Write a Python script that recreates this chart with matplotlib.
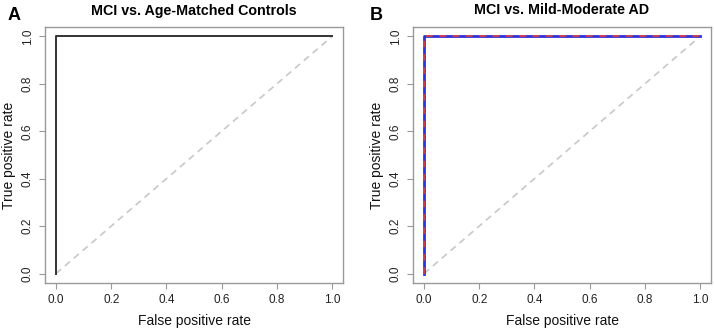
import matplotlib
matplotlib.use("Agg")
import matplotlib.pyplot as plt

plt.rcParams['font.family'] = ['Liberation Sans', 'DejaVu Sans']

fpr_a = [0.0, 0.0, 1.0]
tpr_a = [0.0, 1.0, 1.0]
fpr_b = [0.0, 0.0, 1.0]
tpr_b = [0.0, 1.0, 1.0]
titles = ["MCI vs. Age-Matched Controls", "MCI vs. Mild-Moderate AD"]
panel_letters = ["A", "B"]
ticks = [0.0, 0.2, 0.4, 0.6, 0.8, 1.0]

fig = plt.figure(figsize=(7.14, 3.31), dpi=100)
W, H = 714, 331
boxes = [(45, 343), (413, 711)]
top_px, bot_px = 27, 283
axes = []
for (l, r) in boxes:
    ax = fig.add_axes([l / W, 1 - bot_px / H, (r - l) / W, (bot_px - top_px) / H])
    axes.append(ax)

for i, ax in enumerate(axes):
    ax.set_xlim(-0.04, 1.04)
    ax.set_ylim(-0.04, 1.04)
    ax.plot([0, 1], [0, 1], color='#c8c8c8', lw=1.2, ls=(0, (4, 3)))
    if i == 0:
        ax.plot(fpr_a, tpr_a, color='#333333', lw=1.4)
    else:
        ax.plot(fpr_b, tpr_b, color='#3030d8', lw=2.0)
        ax.plot(fpr_b, tpr_b, color='#e04040', lw=1.2, ls=(0, (4, 4)))
    for s in ax.spines.values():
        s.set_color('#999999')
        s.set_linewidth(1.0)
    ax.set_xticks(ticks)
    ax.set_yticks(ticks)
    ax.set_xticklabels([f"{t:.1f}" for t in ticks])
    ax.set_yticklabels([f"{t:.1f}" for t in ticks], rotation=90, va='center')
    ax.tick_params(colors='#999999', labelcolor='#222222', labelsize=8.5, length=4, pad=4)
    ax.set_xlabel("False positive rate", fontsize=10, color='#111111', labelpad=6)
    ax.set_ylabel("True positive rate", fontsize=10, color='#111111', labelpad=4)
    ax.set_title(titles[i], fontsize=10.3, fontweight='bold', pad=9)

fig.text(8 / W, 1 - 16 / H, panel_letters[0], fontsize=13, fontweight='bold', va='center')
fig.text(370 / W, 1 - 16 / H, panel_letters[1], fontsize=13, fontweight='bold', va='center')

fig.savefig("out.png", dpi=100)
